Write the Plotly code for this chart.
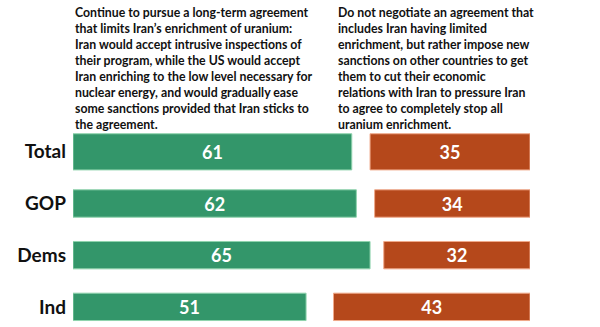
import plotly.graph_objects as go

groups = ["Total", "GOP", "Dems", "Ind"]
support = [61, 62, 65, 51]
oppose = [35, 34, 32, 43]
bar_widths = [0.70, 0.53, 0.53, 0.53]

left_text = ("Continue to pursue a long-term agreement<br>"
             "that limits Iran\u2019s enrichment of uranium:<br>"
             "Iran would accept intrusive inspections of<br>"
             "their program, while the US would accept<br>"
             "Iran enriching to the low level necessary for<br>"
             "nuclear energy, and would gradually ease<br>"
             "some sanctions provided that Iran sticks to<br>"
             "the agreement.")
right_text = ("Do not negotiate an agreement that<br>"
              "includes Iran having limited<br>"
              "enrichment, but rather impose new<br>"
              "sanctions on other countries to get<br>"
              "them to cut their economic<br>"
              "relations with Iran to pressure Iran<br>"
              "to agree to completely stop all<br>"
              "uranium enrichment.")

GREEN = "#33966A"
ORANGE = "#B5481B"
FONT = "Lato"

fig = go.Figure()
fig.add_trace(go.Bar(
    y=list(range(len(groups))), x=support, orientation="h", width=bar_widths,
    marker=dict(color=GREEN, line=dict(color="#8fd3ad", width=1)),
    text=[str(v) for v in support], textposition="inside", insidetextanchor="middle",
    textangle=0,
    textfont=dict(color="white", size=18, family=FONT, weight="bold"),
    constraintext="none", hoverinfo="skip",
))
fig.add_trace(go.Bar(
    y=list(range(len(groups))), x=oppose, base=[100 - v for v in oppose],
    orientation="h", width=bar_widths,
    marker=dict(color=ORANGE, line=dict(color="#f0a98a", width=1)),
    text=[str(v) for v in oppose], textposition="inside", insidetextanchor="middle",
    textangle=0,
    textfont=dict(color="white", size=18, family=FONT, weight="bold"),
    constraintext="none", hoverinfo="skip",
))

fig.update_layout(
    width=600, height=327,
    margin=dict(l=73, r=70, t=126, b=0),
    paper_bgcolor="white", plot_bgcolor="white",
    showlegend=False, barmode="overlay",
    font=dict(family=FONT, color="#111111"),
    xaxis=dict(range=[0, 100], visible=False, fixedrange=True),
    yaxis=dict(range=[3.39, -0.5], tickmode="array",
               tickvals=list(range(len(groups))), ticktext=groups,
               showgrid=False, zeroline=False, showline=False, ticks="",
               ticklabelstandoff=6,
               tickfont=dict(size=19, family=FONT, color="#111111", weight="bold")),
    annotations=[
        dict(text=left_text, xref="x", yref="paper", x=0, y=(327 - 3) / 201,
             xanchor="left", yanchor="top", align="left", showarrow=False,
             font=dict(size=12.3, family=FONT, color="#111111", weight="bold")),
        dict(text=right_text, xref="x", yref="paper", x=(336 - 73) / 4.57, y=(327 - 3) / 201,
             xanchor="left", yanchor="top", align="left", showarrow=False,
             font=dict(size=12.3, family=FONT, color="#111111", weight="bold")),
    ],
)

fig.write_html("out.html")
